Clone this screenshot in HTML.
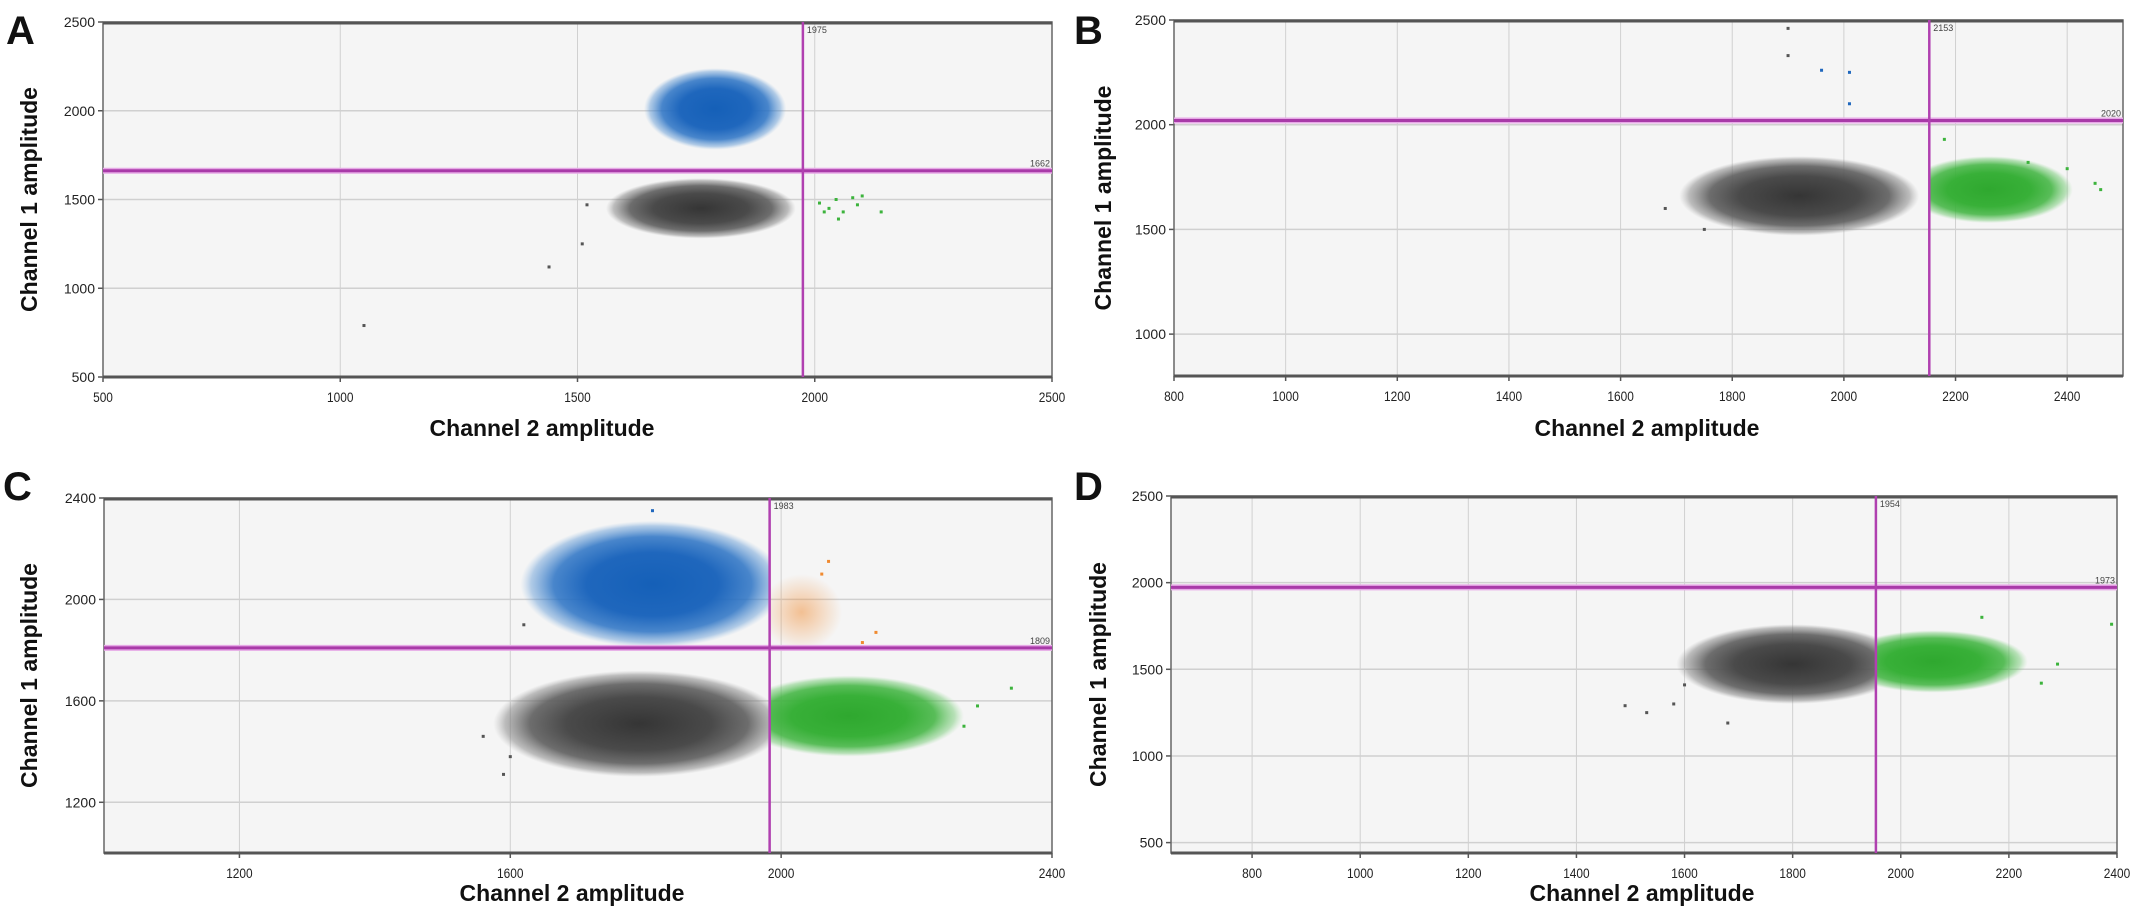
<!DOCTYPE html>
<html><head><meta charset="utf-8">
<style>
html,body{margin:0;padding:0;background:#fff;}
body{width:2150px;height:914px;overflow:hidden;font-family:"Liberation Sans",sans-serif;}
svg text{font-family:"Liberation Sans",sans-serif;}
</style></head>
<body>
<svg id="fig" width="2150" height="914" xmlns="http://www.w3.org/2000/svg">
<defs>
<radialGradient id="g-gray"><stop offset="0" stop-color="#353535"/><stop offset="0.5" stop-color="#4a4a4a"/><stop offset="0.75" stop-color="#5e5e5e" stop-opacity="0.9"/><stop offset="0.92" stop-color="#777" stop-opacity="0.45"/><stop offset="1" stop-color="#999" stop-opacity="0"/></radialGradient>
<radialGradient id="g-blue"><stop offset="0" stop-color="#1560b8"/><stop offset="0.5" stop-color="#1f67bd"/><stop offset="0.75" stop-color="#2a72c4" stop-opacity="0.85"/><stop offset="0.92" stop-color="#4a8bd0" stop-opacity="0.4"/><stop offset="1" stop-color="#7fb0e0" stop-opacity="0"/></radialGradient>
<radialGradient id="g-green"><stop offset="0" stop-color="#2fa82f"/><stop offset="0.5" stop-color="#38b038"/><stop offset="0.75" stop-color="#3db33d" stop-opacity="0.85"/><stop offset="0.92" stop-color="#5cc25c" stop-opacity="0.4"/><stop offset="1" stop-color="#8ad68a" stop-opacity="0"/></radialGradient>
<radialGradient id="g-orange"><stop offset="0" stop-color="#f08a30"/><stop offset="1" stop-color="#f08a30" stop-opacity="0"/></radialGradient>
</defs>
</svg>
<script>
// ---- Panel A data ----
const aXTicks=[500,1000,1500,2000,2500];
const aYTicks=[500,1000,1500,2000,2500];
const aThresh=[1975,1662];
const aClusterKind=['gray','blue'];
const aClusterX=[1760,1790];
const aClusterY=[1450,2010];
const aClusterSX=[200,150];
const aClusterSY=[170,230];
const aPtX=[1050,1440,1510,1520,2010,2030,2045,2060,2080,2090,2100,2140,2020,2050];
const aPtY=[790,1120,1250,1470,1480,1450,1500,1430,1510,1470,1520,1430,1430,1390];
const aPtKind=['gray','gray','gray','gray','green','green','green','green','green','green','green','green','green','green'];
// ---- Panel B data ----
const bXTicks=[800,1000,1200,1400,1600,1800,2000,2200,2400];
const bYTicks=[1000,1500,2000,2500];
const bThresh=[2153,2020];
const bClusterKind=['gray','green'];
const bClusterX=[1920,2260];
const bClusterY=[1660,1690];
const bClusterSX=[215,150];
const bClusterSY=[190,160];
const bPtX=[1900,1900,1960,2010,2010,2180,2330,2400,2450,2460,1680,1750];
const bPtY=[2460,2330,2260,2250,2100,1930,1820,1790,1720,1690,1600,1500];
const bPtKind=['gray','gray','blue','blue','blue','green','green','green','green','green','gray','gray'];
// ---- Panel C data ----
const cXTicks=[1200,1600,2000,2400];
const cYTicks=[1200,1600,2000,2400];
const cThresh=[1983,1809];
const cClusterKind=['blue','gray','green','orange'];
const cClusterX=[1810,1790,2100,2030];
const cClusterY=[2060,1510,1540,1950];
const cClusterSX=[195,215,170,60];
const cClusterSY=[250,210,160,150];
const cPtX=[1810,1560,1590,1600,1620,2070,2140,2290,2340,2270,2060,2120];
const cPtY=[2350,1460,1310,1380,1900,2150,1870,1580,1650,1500,2100,1830];
const cPtKind=['blue','gray','gray','gray','gray','orange','orange','green','green','green','orange','orange'];
// ---- Panel D data ----
const dXTicks=[800,1000,1200,1400,1600,1800,2000,2200,2400];
const dYTicks=[500,1000,1500,2000,2500];
const dThresh=[1954,1973];
const dClusterKind=['gray','green'];
const dClusterX=[1800,2060];
const dClusterY=[1530,1545];
const dClusterSX=[215,175];
const dClusterSY=[230,180];
const dPtX=[1490,1530,1580,1600,1680,2150,2260,2290,2390];
const dPtY=[1290,1250,1300,1410,1190,1800,1420,1530,1760];
const dPtKind=['gray','gray','gray','gray','gray','green','green','green','green'];

const colors={gray:'#555555',blue:'#1f67bd',green:'#3cb33c',orange:'#f08a30'};
const NS='http://www.w3.org/2000/svg';
const svg=document.getElementById('fig');
function mk(tag,attrs,parent){const e=document.createElementNS(NS,tag);for(const k in attrs)e.setAttribute(k,attrs[k]);(parent||svg).appendChild(e);return e;}

const panels=[
 {id:'a',letter:'A',lx:6,ly:44,L:103,R:1052,T:22,B:377,x0:500,x1:2500,y0:500,y1:2500,xt:aXTicks,yt:aYTicks,th:aThresh,ck:aClusterKind,cx:aClusterX,cy:aClusterY,sx:aClusterSX,sy:aClusterSY,px:aPtX,py:aPtY,pk:aPtKind,ytx:31,xtx:542,xty:436},
 {id:'b',letter:'B',lx:1074,ly:44,L:1174,R:2123,T:20,B:376,x0:800,x1:2500,y0:800,y1:2500,xt:bXTicks,yt:bYTicks,th:bThresh,ck:bClusterKind,cx:bClusterX,cy:bClusterY,sx:bClusterSX,sy:bClusterSY,px:bPtX,py:bPtY,pk:bPtKind,ytx:1105,xtx:1647,xty:436},
 {id:'c',letter:'C',lx:3,ly:500,L:104,R:1052,T:498,B:853,x0:1000,x1:2400,y0:1000,y1:2400,xt:cXTicks,yt:cYTicks,th:cThresh,ck:cClusterKind,cx:cClusterX,cy:cClusterY,sx:cClusterSX,sy:cClusterSY,px:cPtX,py:cPtY,pk:cPtKind,ytx:31,xtx:572,xty:901},
 {id:'d',letter:'D',lx:1074,ly:500,L:1171,R:2117,T:496,B:853,x0:650,x1:2400,y0:440,y1:2500,xt:dXTicks,yt:dYTicks,th:dThresh,ck:dClusterKind,cx:dClusterX,cy:dClusterY,sx:dClusterSX,sy:dClusterSY,px:dPtX,py:dPtY,pk:dPtKind,ytx:1100,xtx:1642,xty:901}
];

panels.forEach(p=>{
 const g=mk('g',{});
 
 
 const X=v=>p.L+(v-p.x0)/(p.x1-p.x0)*(p.R-p.L);
 const Y=v=>p.B-(v-p.y0)/(p.y1-p.y0)*(p.B-p.T);
 const lt=mk('text',{x:p.lx,y:p.ly,'font-size':40,'font-weight':'bold',fill:'#111'},g);lt.textContent=p.letter;
 
 
 const bg=mk('rect',{x:p.L,y:p.T,width:p.R-p.L,height:p.B-p.T,fill:'#f5f5f5'},g);
 
 
 p.xt.forEach(t=>{
  const gl=mk('line',{x1:X(t),x2:X(t),y1:p.T,y2:p.B,stroke:'#d0d0d0','stroke-width':1},g);
  
  
  mk('line',{x1:X(t),x2:X(t),y1:p.B,y2:p.B+5,stroke:'#555','stroke-width':1.5},g);
  const tx=mk('text',{x:X(t),y:p.B+25,'font-size':14,'text-anchor':'middle',fill:'#222',transform:'translate('+X(t)+' 0) scale(0.85 1) translate('+(-X(t))+' 0)'},g);tx.textContent=t;
  
  
 });
 p.yt.forEach(t=>{
  const gl=mk('line',{x1:p.L,x2:p.R,y1:Y(t),y2:Y(t),stroke:'#d0d0d0','stroke-width':1.5},g);
  
  
  mk('line',{x1:p.L-5,x2:p.L,y1:Y(t),y2:Y(t),stroke:'#555','stroke-width':1.5},g);
  const tx=mk('text',{x:p.L-8,y:Y(t)+5,'font-size':14,'text-anchor':'end',fill:'#222'},g);tx.textContent=t;
  
  
 });
 const vx=X(p.th[0]),hy=Y(p.th[1]);
 const quad={gray:[p.L,hy,vx-p.L,p.B-hy],blue:[p.L,p.T,vx-p.L,hy-p.T],green:[vx,hy,p.R-vx,p.B-hy],orange:[vx,p.T,p.R-vx,hy-p.T]};
 const defs=svg.querySelector('defs');
 Object.keys(quad).forEach(k=>{const c=mk('clipPath',{id:'clip-'+p.id+'-'+k},defs);const q=quad[k];mk('rect',{x:q[0],y:q[1],width:q[2],height:q[3]},c);});
 p.ck.forEach((k,i)=>{
  const e=mk('ellipse',{cx:X(p.cx[i]),cy:Y(p.cy[i]),rx:Math.abs(X(p.cx[i]+p.sx[i])-X(p.cx[i])),ry:Math.abs(Y(p.cy[i])-Y(p.cy[i]+p.sy[i])),fill:'url(#g-'+k+')','clip-path':'url(#clip-'+p.id+'-'+k+')',opacity:k==='orange'?0.5:1},g);
  
  
 });
 p.px.forEach((v,i)=>{
  const c=mk('rect',{x:X(v)-1.5,y:Y(p.py[i])-1.5,width:3,height:3,fill:colors[p.pk[i]]},g);
  
  
 });
 const fr=mk('rect',{x:p.L,y:p.T,width:p.R-p.L,height:p.B-p.T,fill:'none',stroke:'#666','stroke-width':1.5},g);
 
 
 mk('line',{x1:p.L,x2:p.R,y1:p.T+1,y2:p.T+1,stroke:'#555','stroke-width':3},g);
 mk('line',{x1:p.L,x2:p.R,y1:p.B,y2:p.B,stroke:'#555','stroke-width':3},g);
 const hh=mk('line',{x1:p.L,x2:p.R,y1:hy,y2:hy,stroke:'#e6a8e6','stroke-width':6},g);
 
 
 const hl=mk('line',{x1:p.L,x2:p.R,y1:hy,y2:hy,stroke:'#a83aa8','stroke-width':3},g);
 
 
 const vl=mk('line',{x1:vx,x2:vx,y1:p.T,y2:p.B,stroke:'#b040b0','stroke-width':2.5},g);
 
 
 const vt=mk('text',{x:vx+4,y:p.T+11,'font-size':9,fill:'#444'},g);vt.textContent=p.th[0];
 
 
 const ht=mk('text',{x:p.R-2,y:hy-4,'font-size':9,fill:'#444','text-anchor':'end'},g);ht.textContent=p.th[1];
 
 
 const xt=mk('text',{x:p.xtx,y:p.xty,'font-size':23,'font-weight':'bold','text-anchor':'middle',fill:'#111'},g);xt.textContent='Channel 2 amplitude';
 
 
 const cy=(p.T+p.B)/2;
 const yt=mk('text',{x:p.ytx,y:cy,'font-size':23,'font-weight':'bold','text-anchor':'middle',fill:'#111',transform:'rotate(-90 '+p.ytx+' '+cy+')','dominant-baseline':'middle'},g);yt.textContent='Channel 1 amplitude';
 
 
});
</script>
</body></html>
